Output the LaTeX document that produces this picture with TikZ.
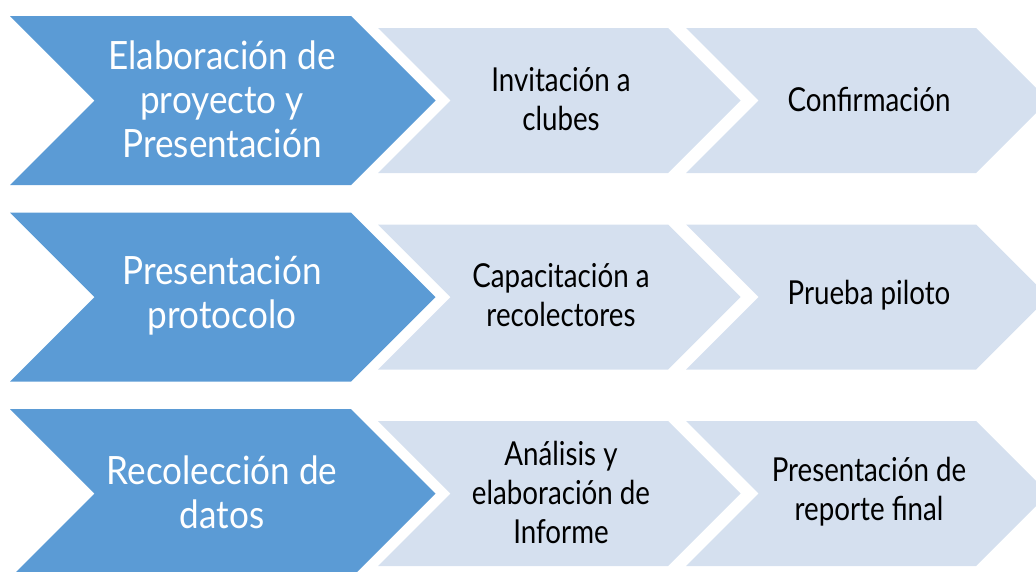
\documentclass[tikz,border=0pt]{standalone}
\usepackage{fontspec}
\setmainfont{Lato}[FakeStretch=0.84]
\newfontfamily\wfont{Lato}[FakeStretch=0.9]
\definecolor{bigblue}{HTML}{5B9BD5}
\definecolor{lightblue}{HTML}{D5E0EF}
% #1 x left, #2 y top, #3 top edge length, #4 height, #5 colour
\newcommand\mychev[5]{%
  \fill[#5] (#1,#2) -- ++(#3,0) -- ++({#4/2},{#4/2}) -- ++({-#4/2},{#4/2})
    -- ++(-#3,0) -- ++({#4/2},{-#4/2}) -- cycle;}
\tikzset{
  wtext/.style={text=white, align=center, inner sep=0pt, font=\wfont\fontsize{39}{44}\selectfont},
  btext/.style={text=black, align=center, inner sep=0pt, font=\fontsize{33}{39}\selectfont}
}
\begin{document}
\begin{tikzpicture}[x=1pt,y=-1pt]
\useasboundingbox (0,0) rectangle (1036,571);
\clip (0,0) rectangle (1036,571);
\foreach \r in {0,1,2}{
  \pgfmathsetmacro\dy{196.5*\r}
  \mychev{10}{16+\dy}{341}{169}{bigblue}
  \mychev{378}{28+\dy}{290}{145}{lightblue}
  \mychev{686}{28+\dy}{290}{145}{lightblue}
}
\node[wtext] (a1) at (222,99) {Elaboración de\\proyecto y\\Presentación};
\node[btext] (b1) at (561,99) {Invitación a\\clubes};
\node[btext] (c1) at (869,99) {Confirmación};
\node[wtext] (a2) at (222,295.5) {Presentación\\protocolo};
\node[btext] (b2) at (561,295.5) {Capacitación a\\recolectores};
\node[btext] (c2) at (869,295.5) {Prueba piloto};
\node[wtext] (a3) at (222,492) {Recolección de\\datos};
\node[btext] (b3) at (561,492) {Análisis y\\elaboración de\\Informe};
\node[btext] (c3) at (869,492) {Presentación de\\reporte final};
\end{tikzpicture}
\end{document}
